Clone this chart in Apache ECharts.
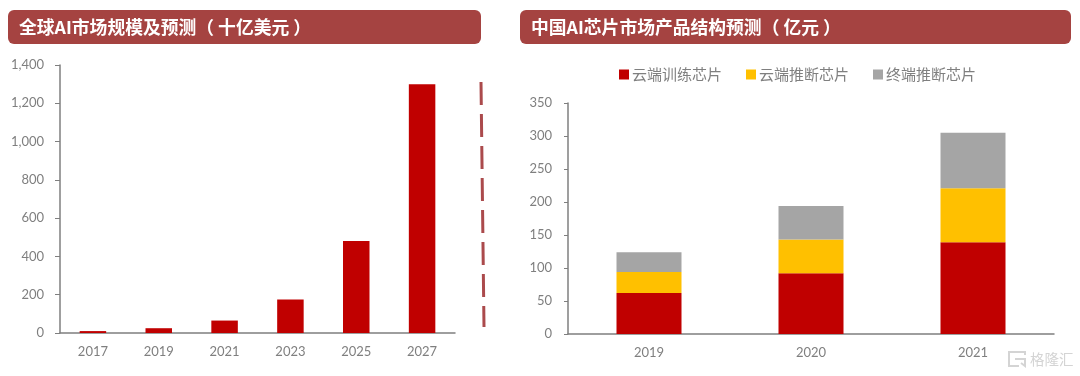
<!DOCTYPE html>
<html>
<head>
<meta charset="utf-8">
<style>
  html, body { margin: 0; padding: 0; background: #fff; }
  #chart { width: 1080px; height: 376px; }
</style>
<script src="https://cdn.jsdelivr.net/npm/echarts@6/dist/echarts.min.js"></script>
</head>
<body>
<div id="chart"></div>
<script>
const globalYears = ['2017', '2019', '2021', '2023', '2025', '2027']
const globalValues = [10, 25, 65, 175, 480, 1300]

const chinaYears = ['2019', '2020', '2021']
const trainChip = [62, 92, 139]
const cloudInferChip = [32, 51, 82]
const edgeInferChip = [30, 51, 84]

const leftTitle = '全球AI市场规模及预测（ 十亿美元 ）'
const rightTitle = '中国AI芯片市场产品结构预测（ 亿元 ）'

const RED = '#c00000'
const YELLOW = '#ffc000'
const GRAY = '#a5a5a5'
const BANNER = '#a54341'
const AXIS = '#7f7f7f'
const LABEL = '#7f7f7f'
const TICK_FONT = 'Lato, "Noto Sans", sans-serif'
const CJK_FONT = '"Noto Sans CJK SC", sans-serif'
const MARK = '#d4d4d4'

const chart = echarts.init(document.getElementById('chart'), null, { renderer: 'canvas' })

function banner(x, y, w, h, label, size) {
  return [{
    type: 'rect',
    shape: { x, y, width: w, height: h, r: 6 },
    style: { fill: BANNER }
  }, {
    type: 'text',
    x: x + 11,
    y: y + h / 2,
    style: {
      text: label,
      fill: '#fff',
      font: 'bold ' + size + 'px ' + CJK_FONT,
      textVerticalAlign: 'middle'
    }
  }]
}

function xAxisOf(gridIndex, data, margin) {
  return {
    type: 'category',
    gridIndex,
    data,
    axisLine: { lineStyle: { color: AXIS, width: 1.5 } },
    axisTick: { show: false },
    axisLabel: { color: LABEL, fontFamily: TICK_FONT, fontSize: 13, margin }
  }
}

function yAxisOf(gridIndex, max, interval, margin, tickLength, extra) {
  return {
    type: 'value',
    gridIndex,
    min: 0,
    max,
    interval,
    splitLine: { show: false },
    axisLine: { show: true, lineStyle: { color: AXIS, width: 1.5 } },
    axisTick: { show: true, length: tickLength, lineStyle: { color: AXIS } },
    axisLabel: Object.assign({ color: LABEL, fontFamily: TICK_FONT, fontSize: 13, margin }, extra)
  }
}

function stackBar(name, data, color) {
  return {
    name,
    type: 'bar',
    stack: 'total',
    xAxisIndex: 1,
    yAxisIndex: 1,
    barWidth: 65,
    itemStyle: { color },
    data
  }
}

chart.setOption({
  animation: false,
  backgroundColor: '#fff',
  grid: [
    { left: 60, top: 65, width: 395, height: 268 },
    { left: 568, top: 103, width: 486, height: 231 }
  ],
  legend: {
    data: ['云端训练芯片', '云端推断芯片', '终端推断芯片'],
    left: 614,
    top: 62,
    icon: 'rect',
    itemWidth: 10,
    itemHeight: 10,
    itemGap: 24,
    textStyle: { color: LABEL, fontFamily: CJK_FONT, fontSize: 15, padding: [0, 0, 0, -2] }
  },
  xAxis: [xAxisOf(0, globalYears, 12), xAxisOf(1, chinaYears, 12)],
  yAxis: [
    yAxisOf(0, 1400, 200, 16, 5, { formatter: (v) => v.toLocaleString('en-US') }),
    yAxisOf(1, 350, 50, 16, 4, {})
  ],
  series: [
    {
      name: '市场规模',
      type: 'bar',
      xAxisIndex: 0,
      yAxisIndex: 0,
      barWidth: 26.5,
      itemStyle: { color: RED },
      data: globalValues
    },
    stackBar('云端训练芯片', trainChip, RED),
    stackBar('云端推断芯片', cloudInferChip, YELLOW),
    stackBar('终端推断芯片', edgeInferChip, GRAY)
  ],
  graphic: [
    ...banner(8, 10, 473, 34, leftTitle, 17.8),
    ...banner(520, 10, 551, 34, rightTitle, 17.8),
    {
      type: 'line',
      shape: { x1: 481, y1: 82, x2: 484, y2: 327 },
      style: { stroke: '#ab4a4c', lineWidth: 3, lineDash: [23, 9] }
    },
    // watermark
    {
      type: 'polyline',
      shape: { points: [[1025, 355], [1025, 352], [1009, 352], [1009, 366], [1019, 366]] },
      style: { fill: 'none', stroke: MARK, lineWidth: 2 }
    },
    {
      type: 'polyline',
      shape: { points: [[1015, 359], [1025, 359], [1025, 366], [1021, 363]] },
      style: { fill: 'none', stroke: MARK, lineWidth: 2 }
    },
    {
      type: 'text',
      x: 1030,
      y: 359,
      style: {
        text: '格隆汇',
        fill: MARK,
        font: '14.5px ' + CJK_FONT,
        textVerticalAlign: 'middle'
      }
    }
  ]
})
</script>
</body>
</html>
